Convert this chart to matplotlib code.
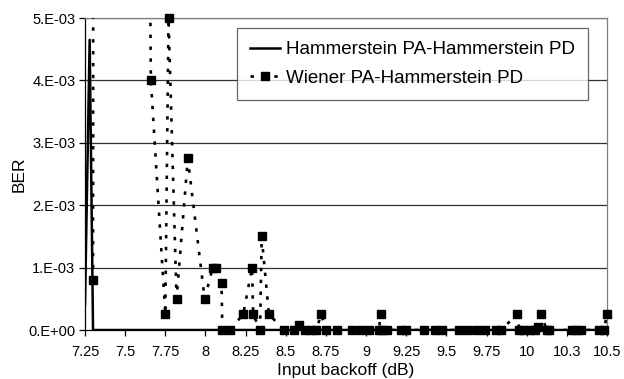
import numpy as np
import matplotlib
matplotlib.use("Agg")
import matplotlib.pyplot as plt
from matplotlib.lines import Line2D

plt.rcParams['font.family'] = ['Liberation Sans', 'DejaVu Sans']

# ---- data ----
series_names = ["Hammerstein PA-Hammerstein PD", "Wiener PA-Hammerstein PD"]

ham_x = [7.25, 7.279, 7.30, 10.5]
ham_ber = [0.4e-3, 4.65e-3, 0.0, 0.0]

wien_x = [7.30, 7.302, 7.645, 7.66, 7.75, 7.77, 7.82, 7.89, 7.995, 8.045, 8.065,
          8.10, 8.105, 8.15, 8.235, 8.29, 8.297, 8.34, 8.35, 8.395, 8.49, 8.55,
          8.58, 8.62, 8.66, 8.69, 8.72, 8.75, 8.82, 8.915, 8.97, 9.02, 9.08,
          9.09, 9.10, 9.13, 9.22, 9.25, 9.36, 9.43, 9.47, 9.58, 9.635, 9.69,
          9.74, 9.81, 9.84, 9.94, 9.955, 9.98, 10.02, 10.05, 10.07, 10.09,
          10.125, 10.14, 10.28, 10.31, 10.34, 10.45, 10.48, 10.5]
wien_ber = [0.8e-3, 9.0e-3, 9.0e-3, 4.0e-3, 0.25e-3, 5.0e-3, 0.5e-3, 2.75e-3,
            0.5e-3, 1.0e-3, 1.0e-3, 0.75e-3, 0.0, 0.0, 0.25e-3, 1.0e-3, 0.25e-3,
            0.0, 1.5e-3, 0.25e-3, 0.0, 0.0, 0.08e-3, 0.0, 0.0, 0.0, 0.25e-3, 0.0,
            0.0, 0.0, 0.0, 0.0, 0.0, 0.25e-3, 0.0, 0.0, 0.0, 0.0, 0.0, 0.0, 0.0,
            0.0, 0.0, 0.0, 0.0, 0.0, 0.0, 0.25e-3, 0.0, 0.0, 0.0, 0.0, 0.05e-3,
            0.25e-3, 0.0, 0.0, 0.0, 0.0, 0.0, 0.0, 0.0, 0.25e-3]

x_ticks = [7.25, 7.5, 7.75, 8, 8.25, 8.5, 8.75, 9, 9.25, 9.5, 9.75, 10, 10.25, 10.5]
x_tick_labels = ["7.25", "7.5", "7.75", "8", "8.25", "8.5", "8.75", "9", "9.25",
                 "9.5", "9.75", "10", "10.3", "10.5"]
y_ticks = [0, 1e-3, 2e-3, 3e-3, 4e-3, 5e-3]
y_tick_labels = ["0.E+00", "1.E-03", "2.E-03", "3.E-03", "4.E-03", "5.E-03"]

x_label = "Input backoff (dB)"
y_label = "BER"

# ---- figure ----
fig = plt.figure(figsize=(6.24, 3.79), dpi=100)
ax = fig.add_axes([85/624, 49/379, (607-85)/624, (330-18)/379])

ymax = 5e-3
ax.set_xlim(7.25, 10.5)
ax.set_ylim(0, ymax)

for yv in y_ticks[1:]:
    ax.axhline(yv, color='#303030', lw=0.9, zorder=1)

dot_style = (0, (1.3, 3.2))
ax.plot(wien_x, wien_ber, color='black', lw=1.9, ls=dot_style, zorder=3,
        dash_capstyle='butt')
wien_vis = np.where(np.array(wien_ber) <= ymax, wien_ber, np.nan)
ax.plot(wien_x, wien_vis, ls='none', marker='s', ms=5.5, color='black',
        clip_on=False, zorder=4)
ax.plot(ham_x, ham_ber, color='black', lw=1.8, zorder=3)

ax.set_xticks(x_ticks)
ax.set_xticklabels(x_tick_labels)
ax.set_yticks(y_ticks)
ax.set_yticklabels(y_tick_labels)
ax.tick_params(axis='both', direction='out', length=4, width=0.9, labelsize=10.5,
               color='black')
ax.tick_params(axis='x', pad=7)
ax.tick_params(axis='y', pad=3)

for s in ['left', 'bottom']:
    ax.spines[s].set_color('black')
    ax.spines[s].set_linewidth(0.9)
for s in ['top', 'right']:
    ax.spines[s].set_color('#808080')
    ax.spines[s].set_linewidth(0.9)

ax.set_xlabel(x_label, fontsize=12.5, labelpad=3)
ax.set_ylabel(y_label, fontsize=12.5, labelpad=1)

handles = [Line2D([], [], color='black', lw=1.8),
           Line2D([], [], color='black', lw=1.9, ls=dot_style, marker='s', ms=5.5)]
leg = ax.legend(handles, series_names, loc='upper left',
                bbox_to_anchor=((237-85)/522, 1 - (28-18)/312), fontsize=13.5,
                frameon=True, fancybox=False, edgecolor='#404040',
                handlelength=1.6, handletextpad=0.3, borderpad=0.7,
                labelspacing=0.6, borderaxespad=0)
leg.get_frame().set_linewidth(0.9)
leg.set_zorder(5)

fig.savefig("out.png", dpi=100)
